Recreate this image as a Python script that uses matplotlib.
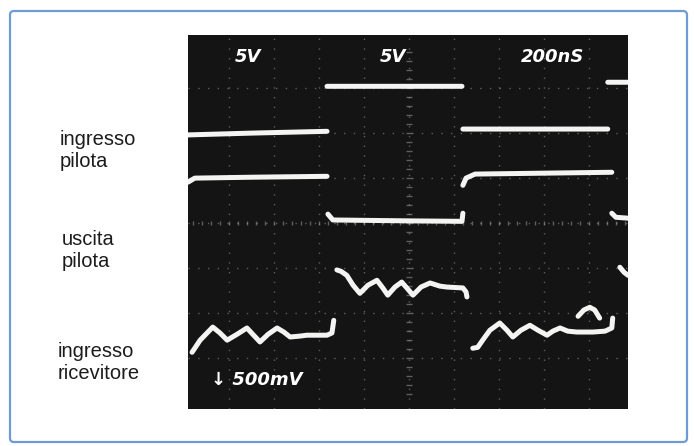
import numpy as np
import matplotlib
matplotlib.use("Agg")
import matplotlib.pyplot as plt
from matplotlib.patches import FancyBboxPatch

# oscilloscope traces in graticule divisions
# (x: time divisions from the left graticule edge, y: divisions from the bottom)
nan = np.nan

t1_x = [0.09, 1.5, 3.18, nan, 3.18, 6.18, nan, 6.20, 9.42, nan, 9.42, 9.87]
t1_y = [5.96, 6.00, 6.04, nan, 7.04, 7.04, nan, 6.09, 6.09, nan, 7.13, 7.13]

t2_x = [0.09, 0.24, 1.5, 3.18, nan, 3.20, 3.31, 5.0, 6.18, 6.20, nan,
        6.20, 6.27, 6.47, 8.0, 9.51, nan, 9.51, 9.60, 9.87]
t2_y = [4.91, 5.00, 5.02, 5.04, nan, 4.20, 4.07, 4.05, 4.04, 4.22, nan,
        4.84, 5.00, 5.09, 5.11, 5.13, nan, 4.22, 4.13, 4.11]

t3_x = [0.18, 0.36, 0.64, 0.80, 0.96, 1.18, 1.40, 1.53, 1.69, 1.87, 2.07,
        2.22, 2.36, 2.58, 2.73, 3.18, 3.29, 3.33, nan,
        3.40, 3.49, 3.62, 3.76, 3.91, 4.09, 4.29, 4.42, 4.53, 4.69, 4.84,
        4.98, 5.09, 5.27, 5.47, 5.69, 5.84, 6.20, 6.27, 6.29, nan,
        6.42, 6.53, 6.64, 6.80, 7.02, 7.18, 7.31, 7.49, 7.69, 7.87, 8.07,
        8.20, 8.36, 8.53, 8.73, 9.09, 9.36, 9.51, 9.53, nan,
        8.76, 8.89, 9.02, 9.13, 9.24, nan,
        9.69, 9.78, 9.87]
t3_y = [1.13, 1.40, 1.69, 1.56, 1.40, 1.53, 1.67, 1.53, 1.36, 1.53, 1.67,
        1.58, 1.47, 1.49, 1.51, 1.51, 1.56, 1.84, nan,
        2.96, 2.93, 2.84, 2.62, 2.44, 2.62, 2.73, 2.56, 2.40, 2.58, 2.69,
        2.53, 2.40, 2.58, 2.67, 2.60, 2.58, 2.56, 2.47, 2.36, nan,
        1.22, 1.24, 1.40, 1.62, 1.78, 1.62, 1.47, 1.62, 1.73, 1.62, 1.51,
        1.60, 1.67, 1.60, 1.58, 1.58, 1.60, 1.67, 1.89, nan,
        1.93, 2.07, 2.13, 2.07, 1.89, nan,
        3.02, 2.91, 2.84]

# settings printed on the screen
ch_labels = ["5V", "5V", "200nS"]
ch_label_x = [1.42, 4.64, 8.20]
marker_text = "\u2193 500mV"

# captions on the left
captions = [("ingresso", 60, 145), ("pilota", 60, 167),
            ("uscita", 62, 245), ("pilota", 62, 267),
            ("ingresso", 58, 357), ("ricevitore", 58, 379)]

W, H = 694, 446
fig = plt.figure(figsize=(W / 100, H / 100), dpi=100)
fig.patch.set_facecolor("white")

# page overlay in pixel units
page = fig.add_axes([0, 0, 1, 1])
page.set_xlim(0, W)
page.set_ylim(H, 0)
page.axis("off")
frame = FancyBboxPatch((10, 11), 677, 431, boxstyle="round,pad=0,rounding_size=4",
                       fill=False, ec="#6e9bd3", lw=1.6)
page.add_patch(frame)
for txt, x, y in captions:
    page.text(x, y, txt, fontsize=14.5, family="Liberation Sans", color="#1c1c1c",
              ha="left", va="baseline")

# oscilloscope screen
ax = fig.add_axes([188 / W, 1 - 409 / H, 440 / W, 374 / H])
ax.set_facecolor("#141414")
ax.set_xlim(0.09, 9.87)
ax.set_ylim(-0.13, 8.18)
ax.set_xticks(np.arange(1, 10))
ax.set_yticks(np.arange(1, 8))
ax.tick_params(length=0, labelbottom=False, labelleft=False)
ax.grid(True, color="#9a9a9a", lw=1.0, ls=(0, (1, 6)), alpha=0.55)
for s in ax.spines.values():
    s.set_visible(False)

# small ticks on the centre lines
minor = np.arange(0.2, 10, 0.2)
ax.plot(minor, np.full_like(minor, 4.0), ls="none", marker="|", ms=3,
        color="#aaaaaa", alpha=0.5)
minor_y = np.arange(0.2, 8, 0.2)
ax.plot(np.full_like(minor_y, 5.0), minor_y, ls="none", marker="_", ms=4,
        color="#aaaaaa", alpha=0.5)

trace_kw = dict(color="#f4f4f2", lw=3.6, solid_capstyle="round",
                solid_joinstyle="round")
ax.plot(t1_x, t1_y, **trace_kw)
ax.plot(t2_x, t2_y, **trace_kw)
ax.plot(t3_x, t3_y, **trace_kw)

for lab, x in zip(ch_labels, ch_label_x):
    ax.text(x, 7.7, lab, color="white", fontsize=13, fontweight="bold",
            fontstyle="italic", ha="center", va="center")
ax.text(0.6, 0.52, marker_text, color="white", fontsize=13, fontweight="bold",
        fontstyle="italic", ha="left", va="center")

fig.savefig("out.png", dpi=100, facecolor="white")
